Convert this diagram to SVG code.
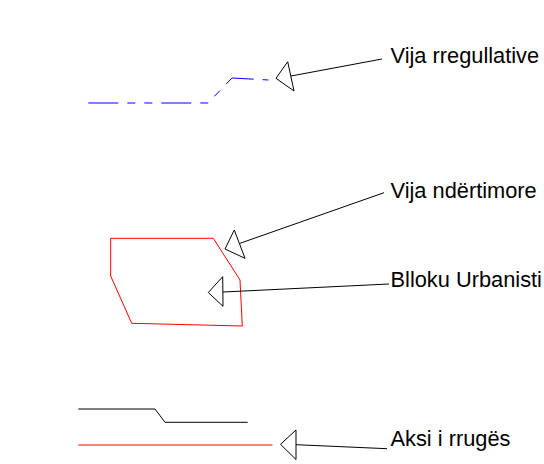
<svg xmlns="http://www.w3.org/2000/svg" width="544" height="464" viewBox="0 0 544 464">
<style>
.lbl{font-family:"Liberation Sans",Arial,sans-serif;font-size:21.8px;fill:#000}
.ldr{fill:none;stroke:#000;stroke-width:1}
.tri{fill:none;stroke:#000;stroke-width:1;stroke-linejoin:miter}
</style>
<rect width="544" height="464" fill="#fff"/>
<g id="vija-rregullative">
<path d="M88.3,103 L208,103 L232,78 L268.5,80" fill="none" stroke="#0000ff" stroke-width="1" stroke-dasharray="30 9 8 9 8 9"/>
</g>
<g id="blloku">
<path d="M110.7,238.3 L213.3,238.3 L240,280 L242.3,326 L131.7,323.3 L110.7,276 Z" fill="none" stroke="#ff0000" stroke-width="1"/>
</g>
<g id="aksi">
<path d="M78.3,409 L155,409 L165,422.3 L247.7,422.3" fill="none" stroke="#000" stroke-width="1"/>
<path d="M78.3,445 L272.5,445" fill="none" stroke="#ff0000" stroke-width="1"/>
</g>
<g id="connectors">
<path class="tri" d="M276,78.3 L287.7,61.7 L294,91 Z"/>
<path class="ldr" d="M291,76 L382,59"/>
<path class="tri" d="M225,249 L234.3,230 L245,258.3 Z"/>
<path class="ldr" d="M240,243.3 L384,192.7"/>
<path class="tri" d="M208.3,292.5 L222.7,276.7 L223,306.3 Z"/>
<path class="ldr" d="M223,292 L389,284"/>
<path class="tri" d="M280.5,444.3 L296,430 L296,459.5 Z"/>
<path class="ldr" d="M296,444.7 L387,448.7"/>
</g>
<g id="labels">
<text class="lbl" x="390.5" y="63">Vija rregullative</text>
<text class="lbl" x="390.5" y="198">Vija ndërtimore</text>
<text class="lbl" x="390.5" y="287">Blloku Urbanisti</text>
<text class="lbl" x="390.5" y="446">Aksi i rrugës</text>
</g>
</svg>
